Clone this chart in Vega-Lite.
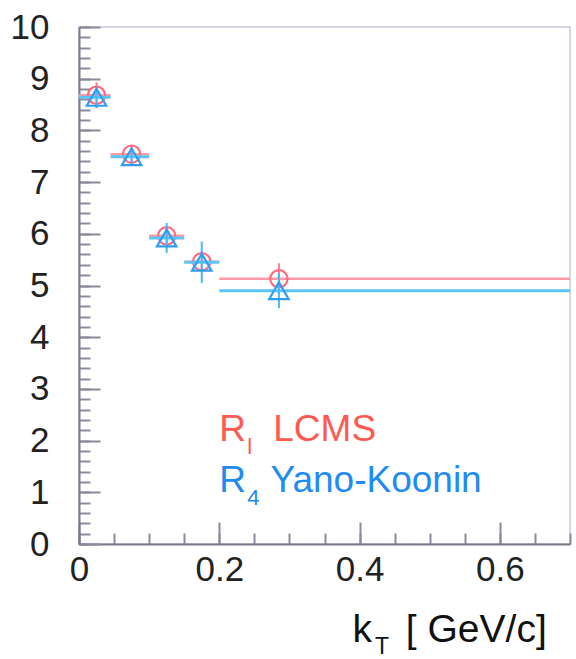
{
  "$schema": "https://vega.github.io/schema/vega-lite/v6.json",
  "width": 491,
  "height": 517,
  "autosize": {"type": "none"},
  "padding": {"left": 79, "top": 27, "right": 6, "bottom": 115},
  "background": "white",
  "config": {
    "view": {"stroke": "#c4c8dc", "strokeWidth": 1.5},
    "axis": {
      "grid": false,
      "title": null,
      "domainColor": "#7a7a88",
      "domainWidth": 2,
      "tickColor": "#8a8a9c",
      "tickWidth": 2,
      "labelFont": "Liberation Sans",
      "labelFontSize": 35,
      "labelColor": "#222222",
      "labelFlush": false,
      "labelOverlap": false
    }
  },
  "datasets": {
    "points": [
      {"series": "LCMS", "kT": 0.025, "R": 8.68, "Rlo": 8.43, "Rhi": 8.93, "kTlo": 0.0, "kThi": 0.045},
      {"series": "LCMS", "kT": 0.075, "R": 7.54, "Rlo": 7.39, "Rhi": 7.69, "kTlo": 0.045, "kThi": 0.1},
      {"series": "LCMS", "kT": 0.125, "R": 5.96, "Rlo": 5.81, "Rhi": 6.11, "kTlo": 0.1, "kThi": 0.15},
      {"series": "LCMS", "kT": 0.175, "R": 5.46, "Rlo": 5.26, "Rhi": 5.66, "kTlo": 0.15, "kThi": 0.2},
      {"series": "LCMS", "kT": 0.285, "R": 5.13, "Rlo": 4.83, "Rhi": 5.43, "kTlo": 0.2, "kThi": 0.7},
      {"series": "YK", "kT": 0.025, "R": 8.64, "Rlo": 8.44, "Rhi": 8.84, "kTlo": 0.0, "kThi": 0.045},
      {"series": "YK", "kT": 0.075, "R": 7.49, "Rlo": 7.34, "Rhi": 7.64, "kTlo": 0.045, "kThi": 0.1},
      {"series": "YK", "kT": 0.125, "R": 5.92, "Rlo": 5.63, "Rhi": 6.21, "kTlo": 0.1, "kThi": 0.15},
      {"series": "YK", "kT": 0.175, "R": 5.45, "Rlo": 5.05, "Rhi": 5.85, "kTlo": 0.15, "kThi": 0.2},
      {"series": "YK", "kT": 0.285, "R": 4.9, "Rlo": 4.56, "Rhi": 5.24, "kTlo": 0.2, "kThi": 0.7}
    ],
    "one": [{"n": 1}]
  },
  "data": {"name": "points"},
  "resolve": {"axis": {"x": "independent", "y": "independent"}},
  "layer": [
    {
      "mark": {"type": "point", "opacity": 0},
      "encoding": {
        "x": {"field": "kT", "type": "quantitative", "scale": {"domain": [0, 0.7], "nice": false, "zero": false},
          "axis": {"orient": "bottom", "values": [0,0.05,0.1,0.15,0.2,0.25,0.3,0.35,0.4,0.45,0.5,0.55,0.6,0.65,0.7], "tickSize": -11, "labels": false, "domain": false}},
        "y": {"field": "R", "type": "quantitative", "scale": {"domain": [0, 10], "nice": false, "zero": false},
          "axis": {"orient": "left", "values": [0,0.2,0.4,0.6,0.8,1,1.2,1.4,1.6,1.8,2,2.2,2.4,2.6,2.8,3,3.2,3.4,3.6,3.8,4,4.2,4.4,4.6,4.8,5,5.2,5.4,5.6,5.8,6,6.2,6.4,6.6,6.8,7,7.2,7.4,7.6,7.8,8,8.2,8.4,8.6,8.8,9,9.2,9.4,9.6,9.8,10], "tickSize": -11, "labels": false, "domain": false}}
      }
    },
    {
      "transform": [{"filter": "datum.series === 'LCMS'"}],
      "mark": {"type": "rule", "color": "#ff9aa6", "strokeWidth": 2.5},
      "encoding": {
        "x": {"field": "kTlo", "type": "quantitative",
          "axis": {"orient": "bottom", "values": [0, 0.2, 0.4, 0.6], "format": "~r", "tickSize": -22, "labelPadding": 30}},
        "x2": {"field": "kThi"},
        "y": {"field": "R", "type": "quantitative",
          "axis": {"orient": "left", "values": [0,1,2,3,4,5,6,7,8,9,10], "format": "d", "tickSize": -21, "labelPadding": 51}}
      }
    },
    {
      "transform": [{"filter": "datum.series === 'LCMS'"}],
      "mark": {"type": "rule", "color": "#ff7a8a", "strokeWidth": 2},
      "encoding": {
        "x": {"field": "kT", "type": "quantitative", "axis": null},
        "y": {"field": "Rlo", "type": "quantitative", "axis": null},
        "y2": {"field": "Rhi"}
      }
    },
    {
      "transform": [{"filter": "datum.series === 'LCMS'"}],
      "mark": {"type": "point", "shape": "circle", "filled": false, "size": 300, "strokeWidth": 2.2, "color": "#ff6a7c", "opacity": 1},
      "encoding": {
        "x": {"field": "kT", "type": "quantitative", "axis": null},
        "y": {"field": "R", "type": "quantitative", "axis": null}
      }
    },
    {
      "transform": [{"filter": "datum.series === 'YK'"}],
      "mark": {"type": "rule", "color": "#5cc4f6", "strokeWidth": 3},
      "encoding": {
        "x": {"field": "kTlo", "type": "quantitative", "axis": null},
        "x2": {"field": "kThi"},
        "y": {"field": "R", "type": "quantitative", "axis": null}
      }
    },
    {
      "transform": [{"filter": "datum.series === 'YK'"}],
      "mark": {"type": "rule", "color": "#4ab8f4", "strokeWidth": 2},
      "encoding": {
        "x": {"field": "kT", "type": "quantitative", "axis": null},
        "y": {"field": "Rlo", "type": "quantitative", "axis": null},
        "y2": {"field": "Rhi"}
      }
    },
    {
      "transform": [{"filter": "datum.series === 'YK'"}],
      "mark": {"type": "point", "shape": "triangle-up", "filled": false, "size": 380, "strokeWidth": 2.2, "color": "#2f9ef2", "opacity": 1},
      "encoding": {
        "x": {"field": "kT", "type": "quantitative", "axis": null},
        "y": {"field": "R", "type": "quantitative", "axis": null}
      }
    },
    {
      "data": {"name": "one"},
      "mark": {"type": "text", "text": "R", "align": "left", "baseline": "alphabetic", "font": "Liberation Sans", "fontSize": 37, "color": "#ff5a50"},
      "encoding": {"x": {"datum": 0.2, "type": "quantitative", "axis": null}, "y": {"datum": 1.99, "type": "quantitative", "axis": null}}
    },
    {
      "data": {"name": "one"},
      "mark": {"type": "text", "text": "l", "align": "left", "baseline": "alphabetic", "font": "Liberation Sans", "fontSize": 22, "color": "#ff5a50"},
      "encoding": {"x": {"datum": 0.24, "type": "quantitative", "axis": null}, "y": {"datum": 1.74, "type": "quantitative", "axis": null}}
    },
    {
      "data": {"name": "one"},
      "mark": {"type": "text", "text": "LCMS", "align": "left", "baseline": "alphabetic", "font": "Liberation Sans", "fontSize": 37, "color": "#ff5a50"},
      "encoding": {"x": {"datum": 0.277, "type": "quantitative", "axis": null}, "y": {"datum": 1.99, "type": "quantitative", "axis": null}}
    },
    {
      "data": {"name": "one"},
      "mark": {"type": "text", "text": "R", "align": "left", "baseline": "alphabetic", "font": "Liberation Sans", "fontSize": 37, "color": "#1e8cf0"},
      "encoding": {"x": {"datum": 0.2, "type": "quantitative", "axis": null}, "y": {"datum": 1.006, "type": "quantitative", "axis": null}}
    },
    {
      "data": {"name": "one"},
      "mark": {"type": "text", "text": "4", "align": "left", "baseline": "alphabetic", "font": "Liberation Sans", "fontSize": 22, "color": "#1e8cf0"},
      "encoding": {"x": {"datum": 0.24, "type": "quantitative", "axis": null}, "y": {"datum": 0.76, "type": "quantitative", "axis": null}}
    },
    {
      "data": {"name": "one"},
      "mark": {"type": "text", "text": "Yano-Koonin", "align": "left", "baseline": "alphabetic", "font": "Liberation Sans", "fontSize": 37, "color": "#1e8cf0"},
      "encoding": {"x": {"datum": 0.273, "type": "quantitative", "axis": null}, "y": {"datum": 1.006, "type": "quantitative", "axis": null}}
    },
    {
      "data": {"name": "one"},
      "mark": {"type": "text", "text": "k", "align": "left", "baseline": "alphabetic", "font": "Liberation Sans", "fontSize": 39, "color": "#111111"},
      "encoding": {"x": {"datum": 0.39, "type": "quantitative", "axis": null}, "y": {"datum": -1.9, "type": "quantitative", "axis": null}}
    },
    {
      "data": {"name": "one"},
      "mark": {"type": "text", "text": "T", "align": "left", "baseline": "alphabetic", "font": "Liberation Sans", "fontSize": 23, "color": "#111111"},
      "encoding": {"x": {"datum": 0.422, "type": "quantitative", "axis": null}, "y": {"datum": -2.12, "type": "quantitative", "axis": null}}
    },
    {
      "data": {"name": "one"},
      "mark": {"type": "text", "text": "[ GeV/c]", "align": "left", "baseline": "alphabetic", "font": "Liberation Sans", "fontSize": 39, "color": "#111111"},
      "encoding": {"x": {"datum": 0.466, "type": "quantitative", "axis": null}, "y": {"datum": -1.9, "type": "quantitative", "axis": null}}
    }
  ]
}
